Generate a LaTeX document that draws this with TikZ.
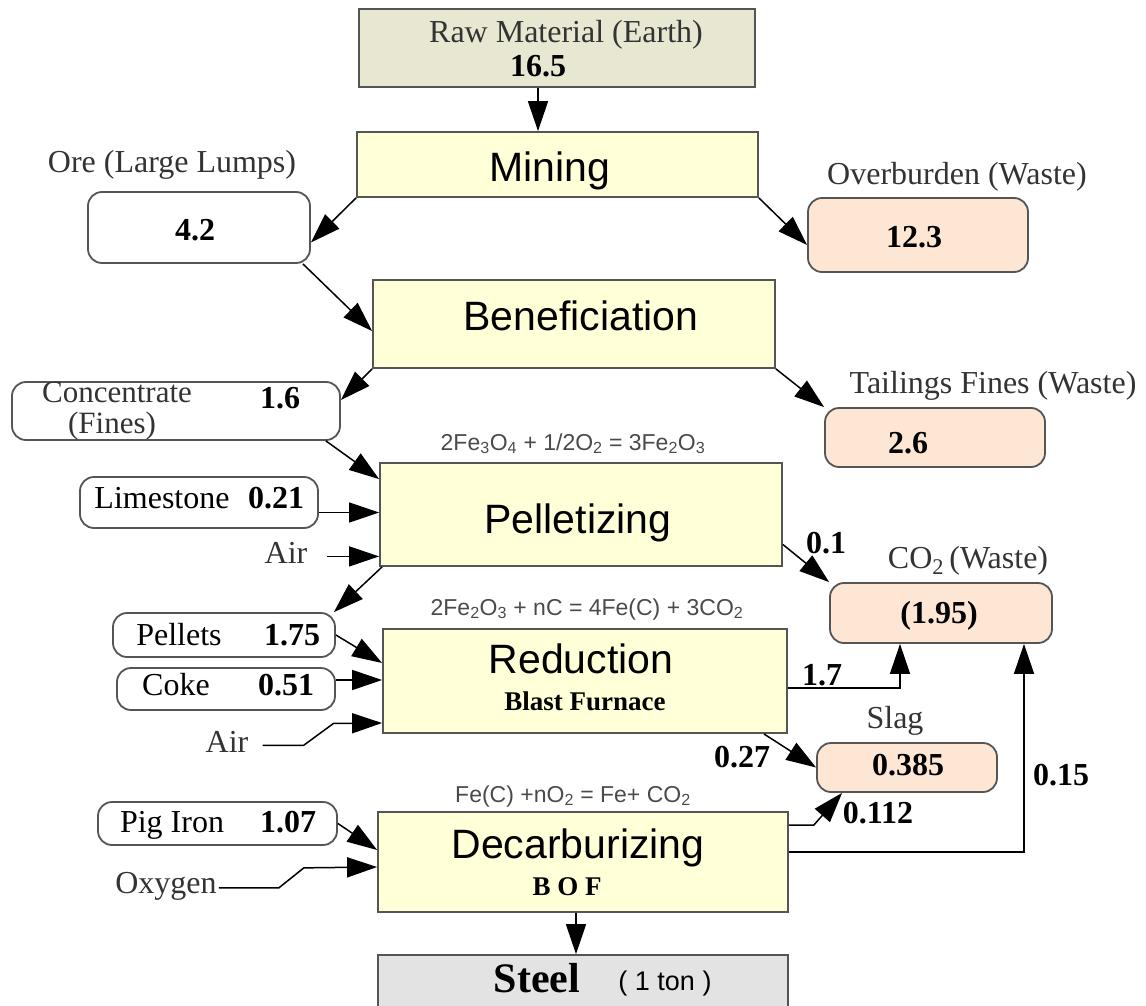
\documentclass[tikz,border=0pt]{standalone}
\usepackage{fontspec}
\setmainfont{Liberation Serif}
\newfontfamily\sansf{Liberation Sans}
\usetikzlibrary{arrows.meta}

\definecolor{procfill}{HTML}{FFFFD8}
\definecolor{rawfill}{HTML}{E7E7D2}
\definecolor{wastefill}{HTML}{FDE6D3}
\definecolor{steelfill}{HTML}{E3E3E3}
\definecolor{edgecol}{HTML}{555555}
\definecolor{labelcol}{HTML}{333333}
\definecolor{eqcol}{HTML}{4A4A4A}

\newcommand{\fsz}[1]{\fontsize{#1}{#1}\selectfont}

\begin{document}
\begin{tikzpicture}[x=1pt,y=-1pt,
  box/.style={draw=edgecol, line width=1.8pt, inner sep=0pt, anchor=center},
  proc/.style={box, fill=procfill},
  matl/.style={box, rounded corners=14pt, fill=white},
  waste/.style={matl, fill=wastefill},
  txt/.style={inner sep=0pt, anchor=base},
  proctxt/.style={txt, font=\sansf\fsz{41}},
  lbl/.style={txt, text=labelcol, font=\fsz{32}},
  num/.style={txt, text=black, font=\bfseries\fsz{32}},
  sub/.style={txt, text=black, font=\bfseries\fsz{27}},
  eqn/.style={txt, text=eqcol, font=\sansf\fsz{23}},
  flow/.style={draw=black, line width=1.5pt, -{Triangle[length=30pt,width=20pt]}},
]
\path[use as bounding box] (0,0) rectangle (1146,1006);

% ---- process boxes
\node[box, fill=rawfill, minimum width=396pt, minimum height=78pt] (raw) at (557,48) {};
\node[proc, minimum width=401pt, minimum height=65pt] (mining) at (557.5,164.5) {};
\node[proc, minimum width=402pt, minimum height=88pt] (benef) at (574,324) {};
\node[proc, minimum width=402pt, minimum height=103pt] (pell) at (581,514.5) {};
\node[proc, minimum width=404pt, minimum height=104pt] (red) at (585,681) {};
\node[proc, minimum width=410pt, minimum height=100pt] (dec) at (583,862) {};
\node[box, fill=steelfill, minimum width=410pt, minimum height=60pt] (steel) at (583,985) {};

% ---- material boxes
\node[matl, minimum width=222pt, minimum height=71pt] (ore) at (199,227.5) {};
\node[matl, minimum width=328pt, minimum height=58pt] (conc) at (176,411) {};
\node[matl, minimum width=238pt, minimum height=51pt] (lime) at (199,502.5) {};
\node[matl, minimum width=222pt, minimum height=44pt] (pellets) at (224,635) {};
\node[matl, minimum width=218pt, minimum height=42pt] (coke) at (226,689) {};
\node[matl, minimum width=239pt, minimum height=43pt] (pig) at (217.5,823.5) {};

% ---- waste boxes
\node[waste, minimum width=220pt, minimum height=74pt] (over) at (918,235) {};
\node[waste, minimum width=220pt, minimum height=59pt] (tail) at (935,437.5) {};
\node[waste, minimum width=222pt, minimum height=60pt] (co2) at (941,613) {};
\node[waste, minimum width=180pt, minimum height=49pt] (slag) at (907,767.5) {};

% ---- texts
\node[lbl] (rawtxt) at (566,43) {Raw Material (Earth)};
\node[num] (rawnum) at (538,77) {16.5};
\node[proctxt] (miningtxt) at (550,182) {Mining};
\node[proctxt] (beneftxt) at (581,330) {Beneficiation};
\node[proctxt] (pelltxt) at (578,533) {Pelletizing};
\node[proctxt] (redtxt) at (581,673) {Reduction};
\node[sub] (bf) at (585,710) {Blast Furnace};
\node[proctxt] (dectxt) at (578,858) {Decarburizing};
\node[sub] (bof) at (567,895) {B O F};
\node[txt, font=\bfseries\fsz{42}] (steeltxt) at (537,992) {Steel};
\node[txt, font=\sansf\fsz{27}] (ton) at (665,990) {( 1 ton )};

\node[lbl] (orelbl) at (172,172) {Ore (Large Lumps)};
\node[num] (orenum) at (195,240) {4.2};
\node[lbl] (overlbl) at (957,185) {Overburden (Waste)};
\node[num] (overnum) at (914,247) {12.3};
\node[lbl] (taillbl) at (993,393) {Tailings Fines (Waste)};
\node[num] (tailnum) at (908,453) {2.6};
\node[lbl, font=\fsz{31}] (conclbl) at (117,402) {Concentrate};
\node[lbl, font=\fsz{31}] (finelbl) at (112,433) {(Fines)};
\node[num] (concnum) at (280,408) {1.6};
\node[eqn] (eqa) at (573,450) {2Fe\textsubscript{3}O\textsubscript{4} + 1/2O\textsubscript{2} = 3Fe\textsubscript{2}O\textsubscript{3}};
\node[lbl, text=black] (limelbl) at (162,508) {Limestone};
\node[num] (limenum) at (276,508) {0.21};
\node[lbl] (aira) at (286,563) {Air};
\node[num] (pellco) at (826,553) {0.1};
\node[lbl] (co2lbl) at (968,568) {CO\textsubscript{2}\,(Waste)};
\node[num] (co2num) at (939,623) {(1.95)};
\node[eqn] (eqb) at (587,615) {2Fe\textsubscript{2}O\textsubscript{3} + nC = 4Fe(C) + 3CO\textsubscript{2}};
\node[lbl, text=black] (pelletslbl) at (179,645) {Pellets};
\node[num] (pelletsnum) at (292,645) {1.75};
\node[lbl, text=black] (cokelbl) at (176,695) {Coke};
\node[num] (cokenum) at (286,695) {0.51};
\node[lbl] (airb) at (227,752) {Air};
\node[num] (redco) at (822,685) {1.7};
\node[num] (redslag) at (742,767) {0.27};
\node[lbl] (slaglbl) at (895,728) {Slag};
\node[num] (slagnum) at (908,775) {0.385};
\node[eqn] (eqc) at (573,802) {Fe(C) +nO\textsubscript{2} = Fe+ CO\textsubscript{2}};
\node[lbl, text=black] (piglbl) at (172,832) {Pig Iron};
\node[num] (pignum) at (288,832) {1.07};
\node[lbl] (oxy) at (166,893) {Oxygen};
\node[num] (decslag) at (878,823) {0.112};
\node[num] (decco) at (1061,785) {0.15};

% ---- free line starts
\coordinate (airastart) at ([xshift=19pt,yshift=-4pt]aira.east);
\coordinate (airbstart) at ([xshift=14pt,yshift=-4pt]airb.east);
\coordinate (oxystart) at ([xshift=2pt,yshift=-2pt]oxy.east);

% ---- flows
\draw[flow] (rawnum |- raw.south) -- (rawnum |- mining.north);
\draw[flow] (mining.south west) -- ([yshift=-15pt]ore.east);
\draw[flow] ([xshift=-8pt]ore.south east) -- ([yshift=-7pt]benef.west);
\draw[flow] (mining.south east) -- ([yshift=-10pt]over.west);
\draw[flow] (benef.south west) -- ([yshift=11pt]conc.east);
\draw[flow] (benef.south east) -- (tail.north west);
\draw[flow] ([xshift=-15pt]conc.south east) -- ([yshift=-17pt]pell.north west);
\draw[flow] ([yshift=-10pt]lime.east) -- ([yshift=-10pt]lime.east -| pell.west);
\draw[flow] (airastart) -- (airastart -| pell.west);
\draw[flow] ([xshift=3pt]pell.south west) -- ([xshift=-2pt]pellets.north east);
\draw[flow] ([yshift=-30pt]pell.east) -- (co2.north west);
\draw[flow] (pellets.east) -- ([yshift=18pt]red.west);
\draw[flow] ([yshift=9pt]coke.east) -- ([yshift=9pt]coke.east -| red.west);
\draw[flow] (airbstart) -- ++(41,0) -- ++(30,-22) -- ([yshift=-42pt]red.west);
\draw[flow] ([yshift=-7pt]red.east) -| ([xshift=-41pt]co2.south);
\draw[flow] ([xshift=-24pt]red.south east) -- (slag.west);
\draw[flow] (pig.east) -- ([yshift=12pt]dec.west);
\draw[flow] (oxystart) -- ++(60,0) -- ++(25,-20) -- ([yshift=-5pt]dec.west);
\draw[flow] ([yshift=37pt]dec.east) -- ++(25,0) -- ([xshift=26pt]slag.south west);
\draw[flow] ([yshift=10pt]dec.east) -| ([xshift=83pt]co2.south);
\draw[flow] ([xshift=-7pt]dec.south) -- ([xshift=-7pt]steel.north);
\end{tikzpicture}
\end{document}
